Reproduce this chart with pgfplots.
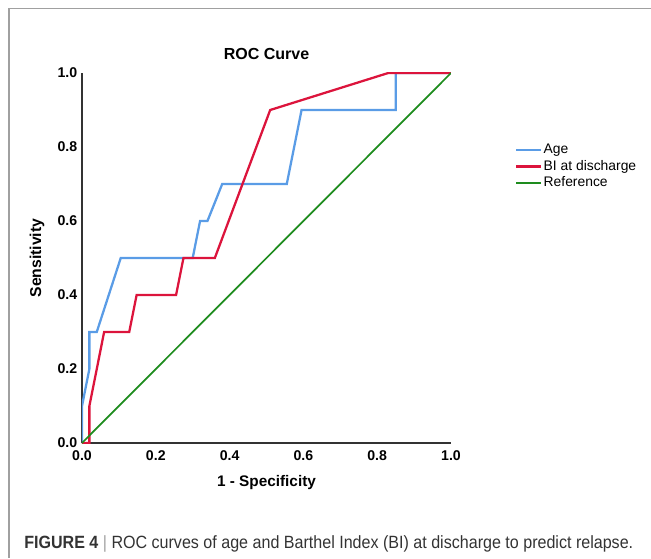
\documentclass[border=0pt]{standalone}
\usepackage{fontspec}
\setmainfont{Liberation Sans}
\usepackage{graphicx}
\usepackage{pgfplots}
\pgfplotsset{compat=1.18}

\definecolor{ageblue}{HTML}{5A9CE6}
\definecolor{bired}{HTML}{DC143C}
\definecolor{refgreen}{HTML}{1E8C1E}
\definecolor{axisgray}{HTML}{333333}
\definecolor{framegray}{HTML}{A0A0A0}

\begin{document}
\begin{tikzpicture}
% page size: 651 x 558 px at 0.75pt per px
\path[use as bounding box] (0,0) rectangle (488.25pt,418.5pt);
\draw[framegray, line width=1.1pt] (6.75pt,0pt) -- (6.75pt,412.1pt) -- (488.25pt,412.1pt);

\begin{axis}[
    at={(61.5pt,86.25pt)}, anchor=south west,
    scale only axis, width=276.75pt, height=277.5pt,
    xmin=0, xmax=1, ymin=0, ymax=1,
    axis lines=left, axis line style={-, axisgray, line width=1.4pt},
    major tick length=0pt,
    xtick={0,0.2,...,1}, ytick={0,0.2,...,1},
    /pgf/number format/assume math mode=true,
    /pgf/number format/.cd, fixed, fixed zerofill, precision=1, /pgfplots/.cd,
    ticklabel style={font=\fontsize{10.6}{12}\selectfont\bfseries, text=black},
    xticklabel style={yshift=-2pt},
    yticklabel style={xshift=0pt},
    title={ROC Curve},
    title style={font=\fontsize{12}{14}\selectfont\bfseries, at={(axis description cs:0.5,1.03)}, anchor=center},
    xlabel={1 - Specificity},
    ylabel={Sensitivity},
    xlabel style={font=\fontsize{11.5}{14}\selectfont\bfseries, at={(axis description cs:0.5,-0.108)}, anchor=center},
    ylabel style={font=\fontsize{11.8}{14}\selectfont\bfseries, at={(axis description cs:-0.122,0.5)}, anchor=center, rotate=0},
    legend style={at={(axis description cs:1.173,0.814)}, anchor=north west, draw=none, fill=none,
        font=\fontsize{10.4}{12}\selectfont, inner sep=0pt, row sep=0.8pt,
        nodes={inner sep=1pt, text height=7.5pt, text depth=2.2pt}},
    legend cell align=left,
    legend image code/.code={\draw[#1] (0pt,0pt) -- (18.75pt,0pt);},
]
\addplot[ageblue, line width=1.7pt] coordinates {
(0,0) (0,0.1) (0.02,0.2) (0.02,0.3) (0.04,0.3) (0.105,0.5) (0.30,0.5)
(0.32,0.6) (0.34,0.6) (0.38,0.7) (0.555,0.7) (0.595,0.9) (0.85,0.9) (0.85,1.0) (1,1)
};
\addlegendentry{Age}
\addplot[bired, line width=1.7pt] coordinates {
(0,0) (0.02,0) (0.02,0.1) (0.06,0.3) (0.128,0.3) (0.148,0.4) (0.255,0.4)
(0.275,0.5) (0.36,0.5) (0.51,0.9) (0.83,1.0) (1,1)
};
\addlegendentry{BI at discharge}
\addplot[refgreen, line width=1.3pt] coordinates {(0,0) (1,1)};
\addlegendentry{Reference}
\end{axis}

\node[anchor=base west, inner sep=0pt, text=axisgray] at (18pt,6.75pt)
  {\resizebox{456.75pt}{\height}{\fontsize{13.3}{15}\selectfont\textbf{FIGURE 4}\ {\color{framegray}|}\ ROC curves of age and Barthel Index (BI) at discharge to predict relapse.}};
\end{tikzpicture}
\end{document}
